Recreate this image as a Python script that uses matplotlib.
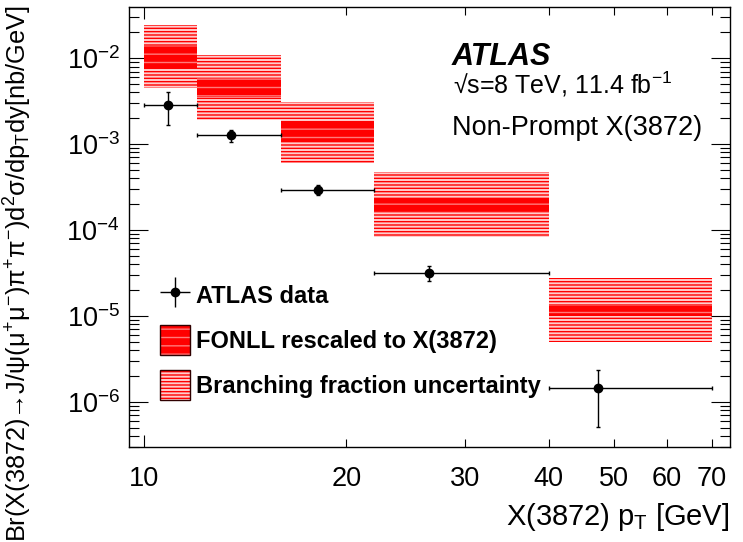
import numpy as np
import matplotlib
matplotlib.use('Agg')
import matplotlib.pyplot as plt
from matplotlib.patches import Patch
from matplotlib.lines import Line2D
from matplotlib.ticker import LogLocator, NullFormatter

plt.rcParams['font.family'] = ['Liberation Sans', 'DejaVu Sans']
plt.rcParams['mathtext.fontset'] = 'custom'
plt.rcParams['mathtext.rm'] = 'Liberation Sans'
plt.rcParams['mathtext.it'] = 'Liberation Sans:italic'
plt.rcParams['mathtext.bf'] = 'Liberation Sans:bold'
plt.rcParams['hatch.linewidth'] = 1.0

# pT bins [GeV]
bin_lo = [10, 12, 16, 22, 40]
bin_hi = [12, 16, 22, 40, 70]

# ATLAS non-prompt data
data_x = [10.85, 13.47, 18.17, 26.6, 47.4]
data_y = [2.88e-3, 1.27e-3, 2.94e-4, 3.16e-5, 1.43e-6]
data_up = [4.09e-3, 1.47e-3, 3.37e-4, 3.78e-5, 2.33e-6]
data_dn = [1.67e-3, 1.07e-3, 2.57e-4, 2.52e-5, 5.13e-7]

# FONLL rescaled band
fonll_lo = [7.7e-3, 3.55e-3, 1.06e-3, 1.63e-4, 9.9e-6]
fonll_hi = [1.39e-2, 5.9e-3, 1.82e-3, 2.38e-4, 1.29e-5]

# branching fraction uncertainty band
bf_lo = [4.52e-3, 1.92e-3, 6.07e-4, 8.3e-5, 4.93e-6]
bf_hi = [2.44e-2, 1.09e-2, 3.1e-3, 4.68e-4, 2.77e-5]

xtick_major = [10]
xtick_minor = [20, 30, 40, 50, 60, 70]

lo = np.array(bin_lo, dtype=float)
hi = np.array(bin_hi, dtype=float)
x = np.array(data_x)
y = np.array(data_y)

fig = plt.figure(figsize=(7.43, 5.42), dpi=100)
ax = fig.add_axes([0.17362, 0.17528, 0.80888, 0.81181])
ax.set_xscale('log')
ax.set_yscale('log')

bf_fc = '#ffcccc'
bf_hc = '#ff0000'
fonll_fc = '#ff0000'
fonll_hc = '#ff7a7a'

ax.bar(lo, np.array(bf_hi) - np.array(bf_lo), bottom=bf_lo, width=hi - lo, align='edge',
       facecolor=bf_fc, edgecolor=bf_hc, hatch='-----', linewidth=0, zorder=1)
ax.bar(lo, np.array(fonll_hi) - np.array(fonll_lo), bottom=fonll_lo, width=hi - lo, align='edge',
       facecolor=fonll_fc, edgecolor=fonll_hc, hatch='--', linewidth=0, zorder=2)

ax.errorbar(x, y, xerr=[x - lo, hi - x], yerr=[y - np.array(data_dn), np.array(data_up) - y],
            fmt='o', color='k', ms=6, elinewidth=1, capsize=1.5, capthick=1, zorder=5)

ax.set_xlim(9.5, 74.5)
ax.set_ylim(2.97e-7, 3.96e-2)

ax.set_xticks(xtick_major, labels=[str(t) for t in xtick_major])
ax.set_xticks(xtick_minor, labels=[str(t) for t in xtick_minor], minor=True)
ax.yaxis.set_major_locator(LogLocator(base=10, numticks=20))
ax.yaxis.set_minor_locator(LogLocator(base=10, subs=np.arange(2, 10), numticks=50))
ax.yaxis.set_minor_formatter(NullFormatter())

ax.tick_params(which='both', direction='in', top=True, right=True, width=0.8, labelsize=19.5)
ax.tick_params(axis='y', which='major', length=13.4, pad=6.5)
ax.tick_params(axis='y', which='minor', length=7.2)
ax.tick_params(axis='x', which='major', length=8.4, pad=14)
ax.tick_params(axis='x', which='minor', length=5.8, pad=14)
for s in ax.spines.values():
    s.set_linewidth(1.0)

ax.set_xlabel(r'X(3872) p$_{\mathregular{T}}$ [GeV]', fontsize=21, loc='right')
ax.xaxis.set_label_coords(0.9988, -0.122)
ax.set_ylabel(r'Br(X(3872)→J/ψ(μ$^{\mathregular{+}}$μ$^{\mathregular{-}}$)π$^{\mathregular{+}}$π$^{\mathregular{-}}$)'
              r'd$^{\mathregular{2}}$σ/dp$_{\mathregular{T}}$dy[nb/GeV]',
              fontsize=18.3, loc='top')
ax.yaxis.set_label_coords(-0.158, 1.0045)

fig.text(452 / 743, 1 - 65 / 542, 'ATLAS', fontsize=22, fontweight='bold', fontstyle='italic', va='baseline')
fig.text(453 / 743, 1 - 93.3 / 542, r'√s=8 TeV, 11.4 fb$^{\mathregular{-1}}$',
         fontsize=18, va='baseline')
fig.text(452 / 743, 1 - 135 / 542, 'Non-Prompt X(3872)', fontsize=19.5, va='baseline')

h_data = (Line2D([], [], marker='+', ms=21, mew=1, color='k', ls='none'),
          Line2D([], [], marker='o', ms=6, color='k', ls='none'))
h_fonll = (Patch(facecolor=fonll_fc, edgecolor=fonll_hc, hatch='--', linewidth=0),
           Patch(fill=False, edgecolor='#300000', linewidth=1))
h_bf = (Patch(facecolor=bf_fc, edgecolor=bf_hc, hatch='-----', linewidth=0),
        Patch(fill=False, edgecolor='#300000', linewidth=1))
ax.legend([h_data, h_fonll, h_bf],
          ['ATLAS data', 'FONLL rescaled to X(3872)', 'Branching fraction uncertainty'],
          loc='upper left', bbox_to_anchor=(0.0516, 0.378), frameon=False,
          prop={'size': 17, 'weight': 'bold'}, handlelength=1.27, handleheight=1.57,
          labelspacing=0.63, handletextpad=0.25, borderpad=0, borderaxespad=0)

fig.savefig('out.png', dpi=100)
